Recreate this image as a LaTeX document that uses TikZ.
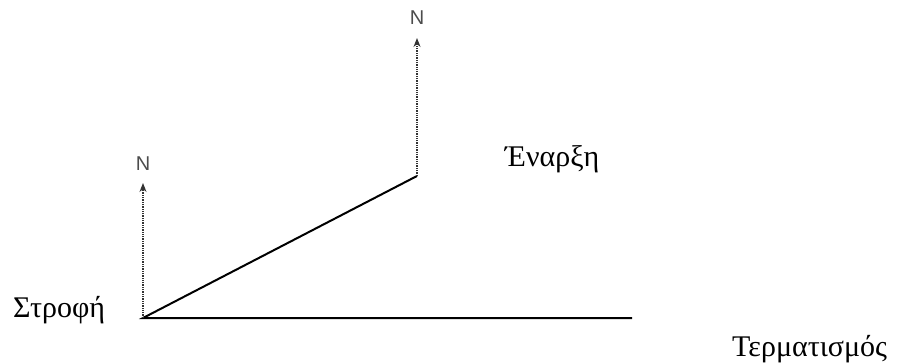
\documentclass[tikz,border=0pt]{standalone}
\usepackage{fontspec}
\setmainfont{Liberation Serif}
\newfontfamily\northfont{Liberation Sans}
\usetikzlibrary{arrows.meta}

\tikzset{
  phase/.style={font=\fontsize{30}{34}\selectfont,inner sep=0pt},
  north/.style={font=\northfont\fontsize{20}{24}\selectfont,text=black!70,inner sep=0pt},
  nline/.style={line width=1.3pt,black!80,densely dotted,-{Stealth[length=9pt,width=7pt]}},
  path/.style={line width=2pt}
}

\begin{document}
\begin{tikzpicture}[x=1pt,y=-1pt]
  \useasboundingbox (0,0) rectangle (910,363);

  \coordinate (turn) at (143,318);
  \coordinate (start) at (417,176);
  \coordinate (stop) at (632,318);
  \coordinate (nturn) at (143,183);
  \coordinate (nstart) at (417,38);

  \node[phase,anchor=base west] (lturn) at (13,317) {Στροφή};
  \node[phase,anchor=base west] (lstart) at (505,167) {Έναρξη};
  \node[phase,anchor=base west] (lstop) at (732,356) {Τερματισμός};
  \node[north] (nt) at (143,164) {N};
  \node[north] (ns) at (417,18) {N};

  \draw[path] (stop) -- (turn) -- (start);
  \draw[nline] (turn) -- (nturn);
  \draw[nline] (start) -- (nstart);
\end{tikzpicture}
\end{document}
